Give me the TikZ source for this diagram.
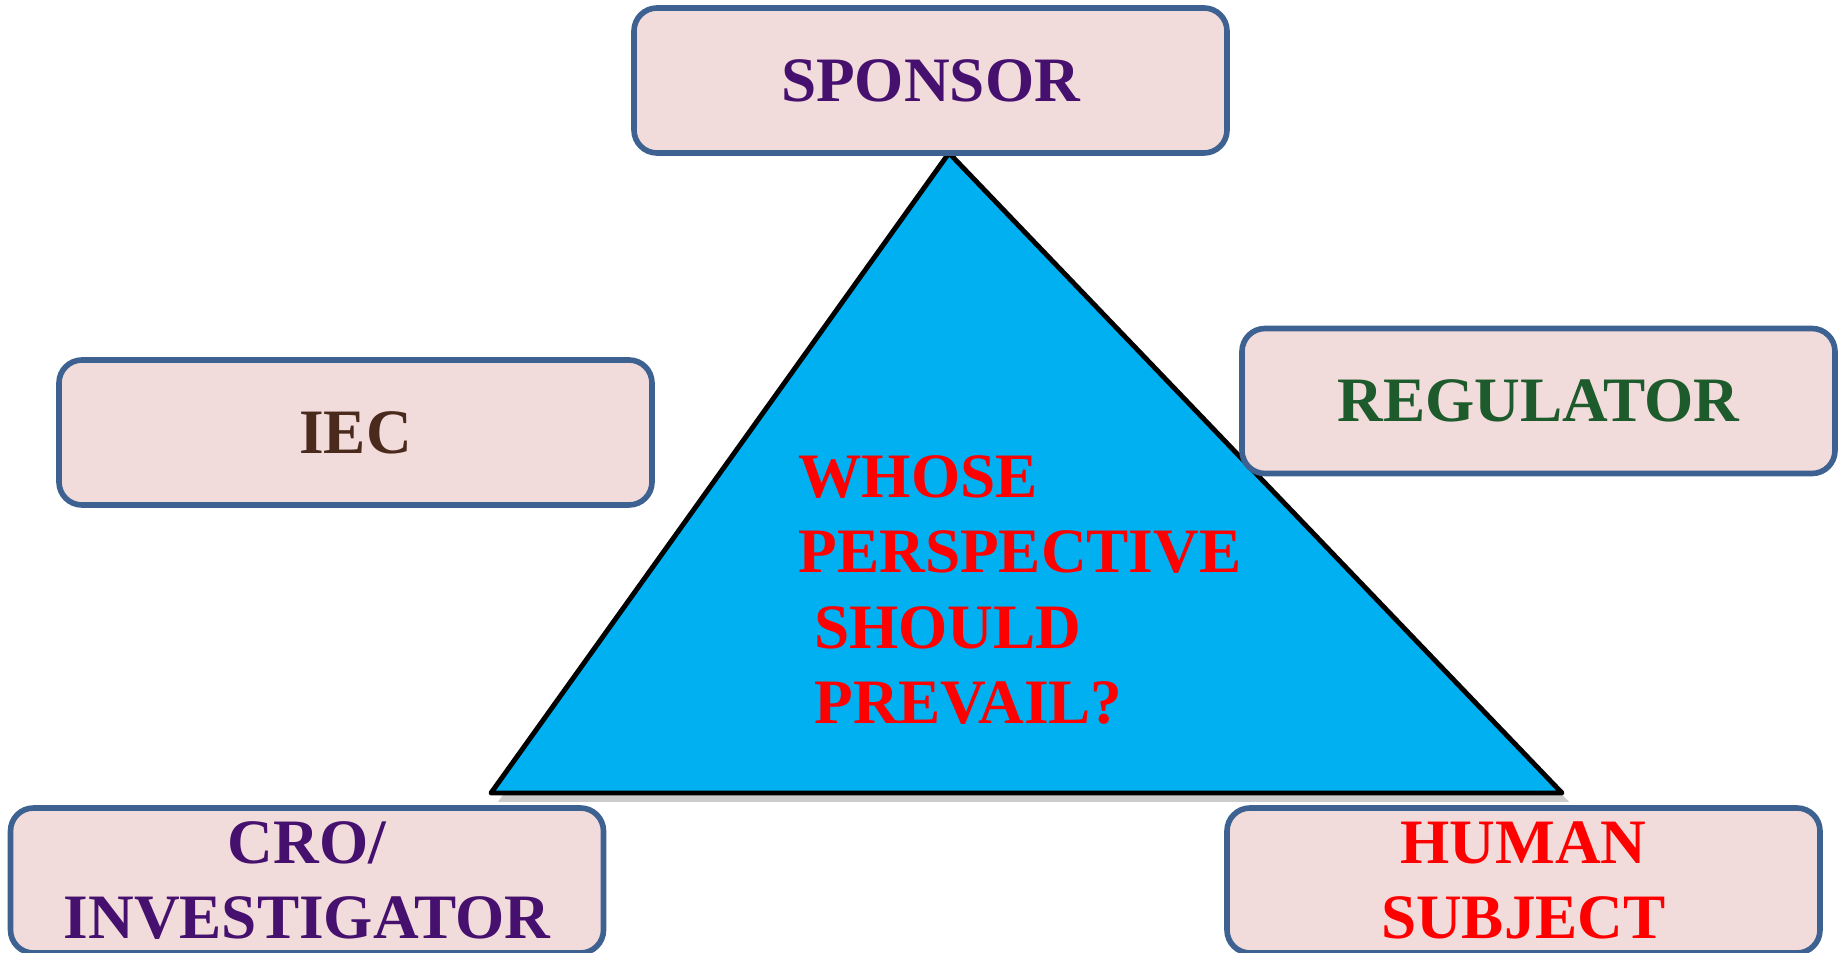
\documentclass[tikz,border=0pt]{standalone}
\usepackage{fontspec}
\setmainfont{Liberation Serif}
\usetikzlibrary{shadows}
\definecolor{edgeblue}{HTML}{3D6291}
\definecolor{rosefill}{HTML}{F2DCDB}
\definecolor{skyfill}{HTML}{00B0F0}
\definecolor{plum}{HTML}{45106E}
\definecolor{forest}{HTML}{1D5A2C}
\definecolor{bark}{HTML}{4A2A1C}
\definecolor{alarm}{HTML}{FF0000}
\tikzset{
  party/.style={rectangle,rounded corners=2.3mm,draw=edgeblue,line width=1.6pt,fill=rosefill,align=center,minimum width=5.93cm,minimum height=1.45cm,inner sep=0pt,font=\fontsize{18}{21.5}\selectfont\bfseries},
  question/.style={align=left,inner sep=0pt,text=alarm,font=\fontsize{18}{21.5}\selectfont\bfseries}
}
\begin{document}
\begin{tikzpicture}[x=1cm,y=1cm]
    \useasboundingbox (0,0) rectangle (18.41,9.52);
    \coordinate (apex) at (9.49,7.99);
    \coordinate (baseL) at (4.91,1.59);
    \coordinate (baseR) at (15.62,1.59);
    \draw[fill=skyfill,draw=black,line width=1.4pt,line join=round,drop shadow={shadow xshift=2pt,shadow yshift=-2.5pt,opacity=0.4}] (apex) -- (baseR) -- (baseL) -- cycle;
    \node[question] (ask) at (10.20,3.62) {WHOSE\\PERSPECTIVE\\\ SHOULD\\\ PREVAIL?};
    \node[party,text=plum] (sponsor) at (9.305,8.715) {SPONSOR};
    \node[party,text=bark] (iec) at (3.555,5.195) {IEC};
    \node[party,text=forest] (regulator) at (15.385,5.51) {REGULATOR};
    \node[party,text=plum] (cro) at (3.07,0.715) {CRO/\\INVESTIGATOR};
    \node[party,text=alarm] (subject) at (15.235,0.715) {HUMAN\\SUBJECT};
  \end{tikzpicture}
\end{document}
